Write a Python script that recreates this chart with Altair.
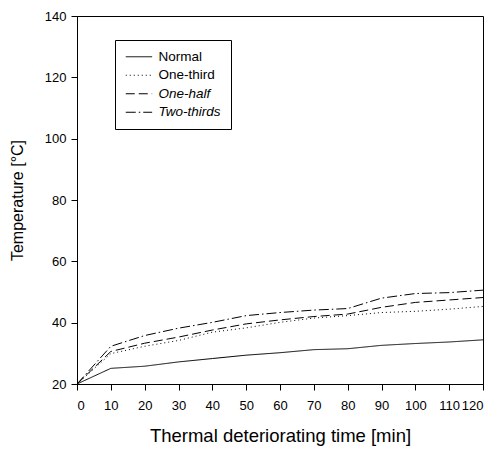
import altair as alt
import pandas as pd

times = [0, 10, 20, 30, 40, 50, 60, 70, 80, 90, 100, 110, 120]
normal = [20, 25.1, 25.8, 27.2, 28.3, 29.4, 30.2, 31.2, 31.5, 32.6, 33.2, 33.7, 34.4]
one_third = [20, 29.9, 32.3, 34.2, 36.9, 38.3, 40.1, 41.5, 42.3, 43.3, 43.7, 44.4, 45.3]
one_half = [20, 30.6, 33.3, 35.3, 37.6, 39.6, 40.9, 42.0, 42.8, 45.0, 46.6, 47.4, 48.2]
two_thirds = [20, 32.3, 35.8, 38.2, 40.1, 42.3, 43.3, 44.1, 44.6, 48.0, 49.5, 49.8, 50.6]

series_names = ["Normal", "One-third", "One-half", "Two-thirds"]
series_values = [normal, one_third, one_half, two_thirds]

rows = []
for name, vals in zip(series_names, series_values):
    for t, v in zip(times, vals):
        rows.append({"time": t, "temp": v, "series": name})
df = pd.DataFrame(rows)

font = "Liberation Sans"

chart = alt.Chart(df).mark_line(color="black", strokeWidth=1).encode(
    x=alt.X("time:Q", scale=alt.Scale(domain=[0, 120], nice=False),
            axis=alt.Axis(values=list(range(0, 121, 10)), title="Thermal deteriorating time [min]",
                          grid=False, tickSize=6, labelPadding=9, titlePadding=14,
                          titleFontSize=18.5)),
    y=alt.Y("temp:Q", scale=alt.Scale(domain=[20, 140], nice=False, zero=False),
            axis=alt.Axis(values=list(range(20, 141, 20)), title="Temperature [°C]",
                          grid=False, tickSize=6, labelPadding=5, titlePadding=19,
                          titleFontSize=16)),
    strokeDash=alt.StrokeDash("series:N",
        scale=alt.Scale(domain=series_names,
                        range=[[1, 0], [1, 3], [9, 4], [10, 3, 1.5, 3]]),
        legend=alt.Legend(title=None, orient="none", legendX=38, legendY=24,
                          strokeColor="black", padding=10, symbolType="M-1,0H3.4",
                          symbolSize=144, symbolStrokeWidth=1, symbolStrokeColor="black",
                          labelFontSize=13.5, labelFont=font, rowPadding=3.5, labelOffset=20,
                          labelFontStyle=alt.ExprRef("datum.label == 'One-half' || datum.label == 'Two-thirds' ? 'italic' : 'normal'"),
                          fillColor="white", cornerRadius=0)),
    order="time:Q",
).properties(
    width=406, height=368,
    autosize=alt.AutoSizeParams(type="none"),
    padding={"left": 69, "top": 8, "right": 5, "bottom": 64},
).configure_view(
    stroke="black", strokeWidth=1
).configure_axis(
    domainColor="black", tickColor="black", labelColor="black", titleColor="black",
    labelFont=font, titleFont=font, labelFontSize=13,
    titleFontWeight="normal", domainWidth=1, tickWidth=1
)

chart.save("out.html", embed_options={"renderer": "svg", "actions": False})
